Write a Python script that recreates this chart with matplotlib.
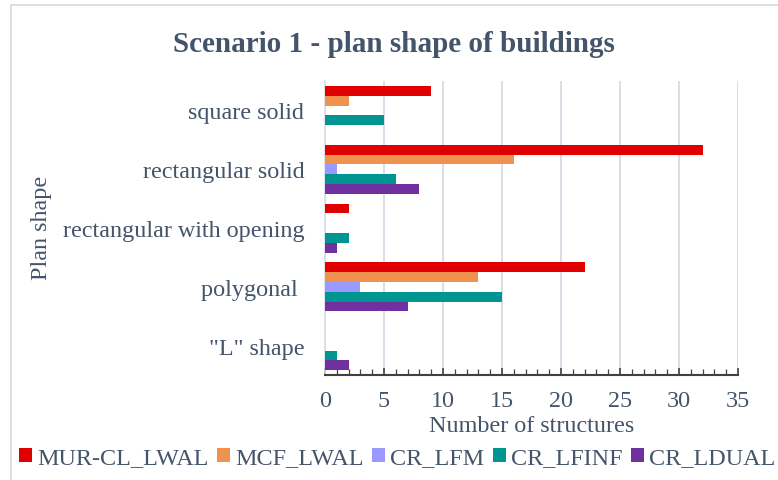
import matplotlib
matplotlib.use("Agg")
import matplotlib.pyplot as plt
from matplotlib.patches import Rectangle
from matplotlib.ticker import MultipleLocator
import numpy as np

categories = ['square solid', 'rectangular solid', 'rectangular with opening', 'polygonal ', '"L" shape']
series_names = ['MUR-CL_LWAL', 'MCF_LWAL', 'CR_LFM', 'CR_LFINF', 'CR_LDUAL']
mur_cl_lwal = [9, 32, 2, 22, 0]
mcf_lwal = [2, 16, 0, 13, 0]
cr_lfm = [0, 1, 0, 3, 0]
cr_lfinf = [5, 6, 2, 15, 1]
cr_ldual = [0, 8, 1, 7, 2]
series_values = [mur_cl_lwal, mcf_lwal, cr_lfm, cr_lfinf, cr_ldual]
colors = ['#E00000', '#F0914E', '#9999FF', '#009590', '#7030A0']

TXT = '#44546A'
FS = 17.4
plt.rcParams['font.family'] = ['Liberation Serif', 'DejaVu Serif']

W, H = 778, 481
fig = plt.figure(figsize=(W / 100, H / 100), dpi=100)
ax = fig.add_axes([325 / W, 1 - 376 / H, (738 - 325) / W, (376 - 82) / H])

n_cat = len(categories)
bar_h = 1 / 6
ypos = np.arange(n_cat)[::-1].astype(float)  # top category at highest y
for i, (name, vals, c) in enumerate(zip(series_names, series_values, colors)):
    offs = (2 - i) * bar_h
    ax.barh(ypos + offs, vals, height=bar_h, color=c, label=name, zorder=3)

ax.set_ylim(-0.5, n_cat - 0.5)
ax.set_xlim(0, 35)
ax.set_yticks(ypos)
ax.set_yticklabels(categories, fontsize=FS, color=TXT)
ax.xaxis.set_major_locator(MultipleLocator(5))
ax.xaxis.set_minor_locator(MultipleLocator(1))
ax.tick_params(axis='x', which='major', direction='in', length=5, width=1.2, color='#404040',
               labelsize=FS, labelcolor=TXT, pad=11)
ax.tick_params(axis='x', which='minor', direction='in', length=4, width=0.9, color='#404040')
ax.tick_params(axis='y', length=0, pad=15)
ax.grid(axis='x', which='major', color='#D9DEE6', linewidth=1.4, zorder=0)
for s in ['top', 'right']:
    ax.spines[s].set_visible(False)
ax.spines['left'].set_color('#D9DEE6')
ax.spines['left'].set_linewidth(1.2)
ax.spines['bottom'].set_color('#404040')
ax.spines['bottom'].set_linewidth(1.5)

ax.set_xlabel('Number of structures', fontsize=FS, color=TXT, labelpad=3)
fig.text(42 / W, 1 - 228 / H, 'Plan shape', rotation=90, fontsize=FS, color=TXT,
         ha='center', va='center')
fig.text(394 / W, 1 - 45 / H, 'Scenario 1 - plan shape of buildings', fontsize=21,
         fontweight='bold', color=TXT, ha='center', va='center')

handles, labels = ax.get_legend_handles_labels()
leg = fig.legend(handles, labels, loc='center', bbox_to_anchor=(397 / W, 1 - 459 / H), ncol=5,
                 frameon=False, fontsize=FS, handlelength=0.55, handleheight=0.55,
                 handletextpad=0.2, columnspacing=0.35, borderaxespad=0, borderpad=0)
for t in leg.get_texts():
    t.set_color(TXT)

fig.add_artist(Rectangle((11 / W, -0.2), 1.2, 1.2 - 6 / H, transform=fig.transFigure,
                         fill=False, edgecolor='#D9DEE6', linewidth=1.3))

fig.savefig('out.png', dpi=100)
